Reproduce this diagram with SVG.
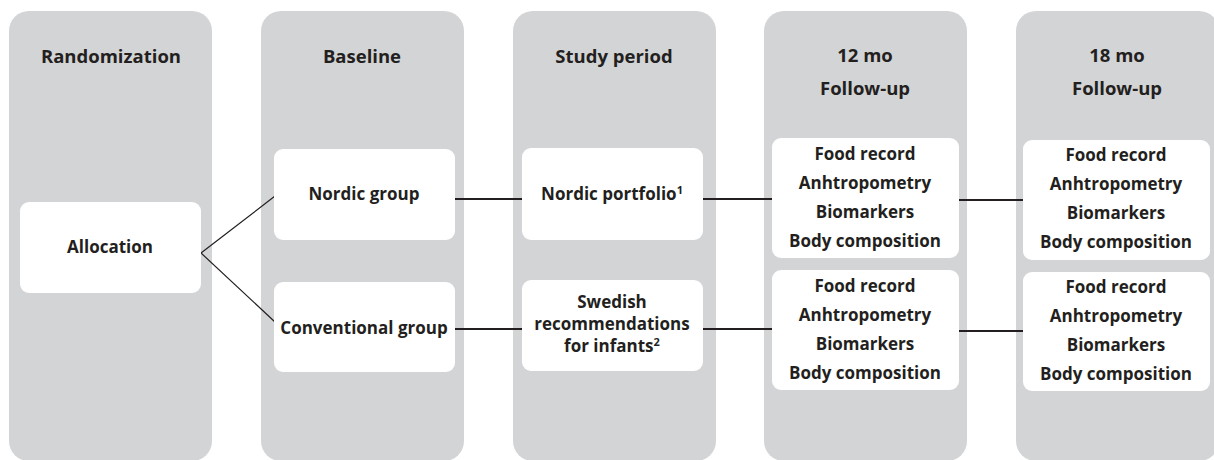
<svg xmlns="http://www.w3.org/2000/svg" width="1214" height="460" viewBox="0 0 1214 460">
<style>
.col{fill:#d3d4d6}
.box{fill:#ffffff}
text{font-family:"Open Sans","Noto Sans",sans-serif;font-weight:bold;fill:#231f20;text-anchor:middle}
.h{font-size:18.5px}
.t{font-size:17px}
.sup{font-size:11px}
.c{stroke:#231f20;fill:none}
</style>
<g id="col-randomization"><rect class="col" x="9" y="11" width="203" height="450" rx="20"/><text class="h" x="111" y="63">Randomization</text></g>
<g id="col-baseline"><rect class="col" x="261" y="11" width="203" height="450" rx="20"/><text class="h" x="362" y="63">Baseline</text></g>
<g id="col-study"><rect class="col" x="513" y="11" width="203" height="450" rx="20"/><text class="h" x="614" y="63">Study period</text></g>
<g id="col-12mo"><rect class="col" x="764" y="11" width="203" height="450" rx="20"/><text class="h" x="865" y="62">12 mo</text><text class="h" x="865" y="95">Follow-up</text></g>
<g id="col-18mo"><rect class="col" x="1016" y="11" width="203" height="450" rx="20"/><text class="h" x="1117" y="62">18 mo</text><text class="h" x="1117" y="95">Follow-up</text></g>

<g id="connectors">
<path class="c" stroke-width="1.2" d="M201 253 L275 196 M201 253 L275 322"/>
<path class="c" stroke-width="1.8" d="M455 199 H523 M703 199 H772 M959 200 H1023 M455 329 H522 M703 329 H772 M959 331 H1023"/>
</g>

<g id="allocation"><rect class="box" x="20" y="202" width="181" height="91" rx="9"/><text class="t" x="110" y="253">Allocation</text></g>
<g id="nordic-group"><rect class="box" x="274" y="149" width="181" height="91" rx="9"/><text class="t" x="364" y="200">Nordic group</text></g>
<g id="conventional-group"><rect class="box" x="274" y="282" width="181" height="90" rx="9"/><text class="t" x="364" y="334">Conventional group</text></g>
<g id="nordic-portfolio"><rect class="box" x="522" y="148" width="181" height="92" rx="9"/><text class="t" x="612" y="200">Nordic portfolio<tspan class="sup" dy="-6">1</tspan></text></g>
<g id="swedish-recommendations"><rect class="box" x="522" y="280" width="181" height="91" rx="9"/><text class="t" x="612" y="308">Swedish</text><text class="t" x="612" y="330">recommendations</text><text class="t" x="612" y="352">for infants<tspan class="sup" dy="-6">2</tspan></text></g>
<g id="fu12-nordic"><rect class="box" x="772" y="138" width="187" height="120" rx="9"/><text class="t" x="865" y="160">Food record</text><text class="t" x="865" y="189">Anhtropometry</text><text class="t" x="865" y="218">Biomarkers</text><text class="t" x="865" y="247">Body composition</text></g>
<g id="fu12-conventional"><rect class="box" x="772" y="270" width="187" height="120" rx="9"/><text class="t" x="865" y="292">Food record</text><text class="t" x="865" y="321">Anhtropometry</text><text class="t" x="865" y="350">Biomarkers</text><text class="t" x="865" y="379">Body composition</text></g>
<g id="fu18-nordic"><rect class="box" x="1023" y="140" width="187" height="120" rx="9"/><text class="t" x="1116" y="161">Food record</text><text class="t" x="1116" y="190">Anhtropometry</text><text class="t" x="1116" y="219">Biomarkers</text><text class="t" x="1116" y="248">Body composition</text></g>
<g id="fu18-conventional"><rect class="box" x="1023" y="272" width="187" height="119" rx="9"/><text class="t" x="1116" y="293">Food record</text><text class="t" x="1116" y="322">Anhtropometry</text><text class="t" x="1116" y="351">Biomarkers</text><text class="t" x="1116" y="380">Body composition</text></g>
</svg>
